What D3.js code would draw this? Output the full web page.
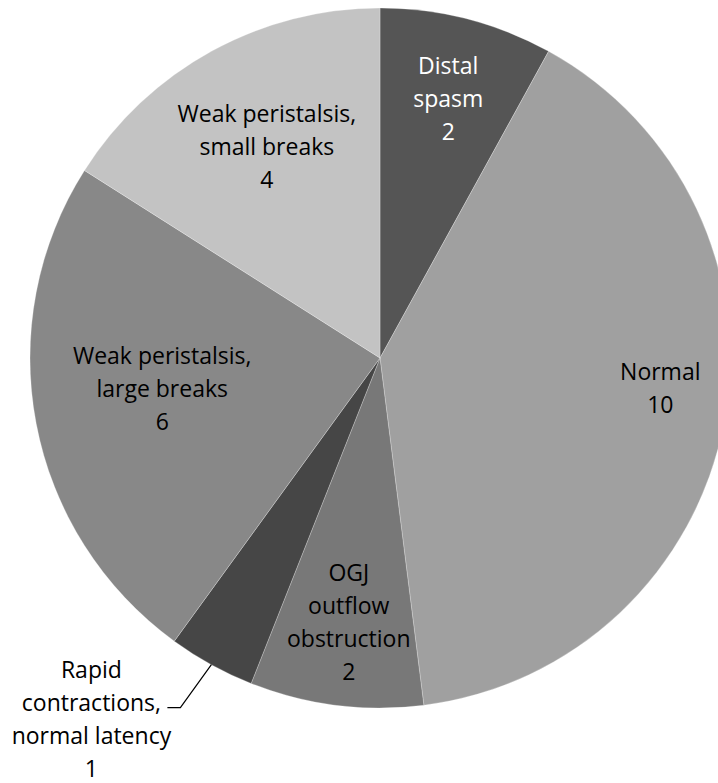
<!DOCTYPE html>
<html><head><meta charset="utf-8">
<script src="https://cdn.jsdelivr.net/npm/d3@7/dist/d3.min.js"></script>
<style>html,body{margin:0;padding:0;background:#fff;overflow:hidden}</style>
</head><body><svg id="c" width="718" height="783"></svg>
<script>
const categories = ["Distal spasm", "Normal", "OGJ outflow obstruction", "Rapid contractions, normal latency", "Weak peristalsis, large breaks", "Weak peristalsis, small breaks"];
const values = [2, 10, 2, 1, 6, 4];
const labelLines = [["Distal","spasm"],["Normal"],["OGJ","outflow","obstruction"],["Rapid","contractions,","normal latency"],["Weak peristalsis,","large breaks"],["Weak peristalsis,","small breaks"]];
const colors = ["#555555","#a0a0a0","#787878","#464646","#888888","#c3c3c3"];
const textColors = ["#ffffff","#000000","#000000","#000000","#000000","#000000"];

const svg = d3.select("#c");
const cx = 380, cy = 358, R = 350;
const g = svg.append("g").attr("transform", `translate(${cx},${cy})`);
const pie = d3.pie().sort(null).value(d => d)(values);
const arc = d3.arc().innerRadius(0).outerRadius(R);
g.selectAll("path").data(pie).join("path")
  .attr("d", arc).attr("fill", (d,i) => colors[i])
  .attr("stroke", "#ffffff").attr("stroke-opacity", 0.35).attr("stroke-width", 0.75);

const labelRadius = [0.763, 0.806, 0.765, 1.0, 0.629, 0.682];
const labelShift = [0.4, -4.3, -0.5, 0, 2.4, 0.5];
const lineH = 33;
pie.forEach((d,i) => {
  const a = (d.startAngle + d.endAngle)/2 + labelShift[i]*Math.PI/180;
  const lines = labelLines[i].concat([String(values[i])]);
  let x, y;
  if (i === 3) {
    const px = Math.sin(a)*R, py = -Math.cos(a)*R;
    const ex = px - 31, ey = py + 43;
    g.append("polyline").attr("points", `${px},${py} ${ex},${ey} ${ex-13},${ey}`)
      .attr("fill","none").attr("stroke","#000").attr("stroke-width",1.2);
    x = ex - 89; y = ey + 13;
  } else {
    const r = R*labelRadius[i];
    x = Math.sin(a)*r; y = -Math.cos(a)*r;
  }
  const t = g.append("text").attr("text-anchor","middle")
    .attr("font-family","'Open Sans', sans-serif").attr("font-size",23)
    .attr("fill", textColors[i]);
  const n = lines.length;
  lines.forEach((ln, k) => {
    t.append("tspan").attr("x", x).attr("y", y + (k - (n-1)/2)*lineH + 7).text(ln);
  });
});
</script></body></html>
